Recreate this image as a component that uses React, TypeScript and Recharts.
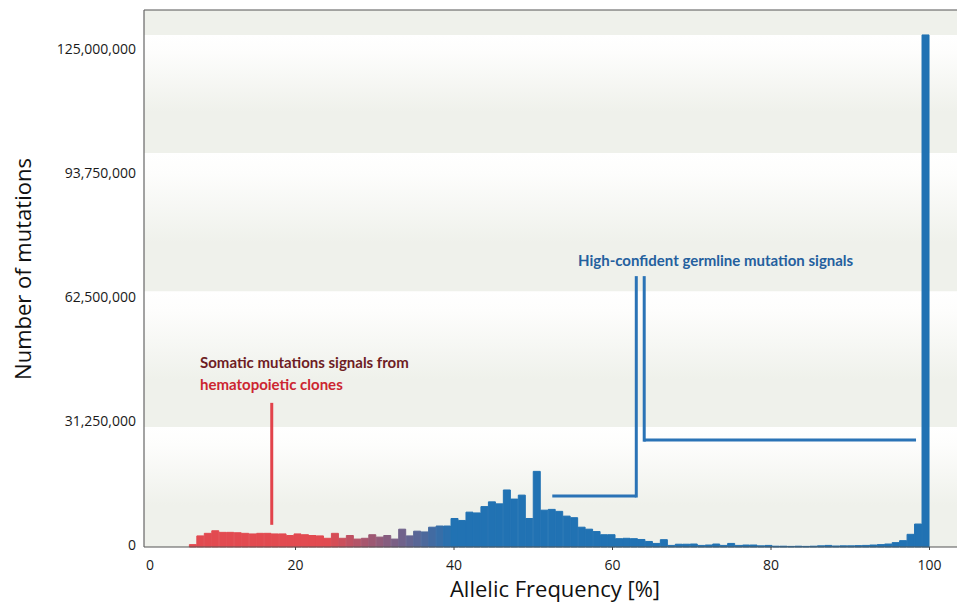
import React from 'react';
import { BarChart, Bar, Cell, XAxis, YAxis, ReferenceArea, ReferenceLine } from 'recharts';

// histogram of allelic frequency, 106 equal bins over 0-100 %, counts in millions
const BIN_TOTAL = 106;
const FIRST_BIN = 7;
const BIN_COUNTS_M = [
  0.6, 2.8, 3.45, 4.1, 3.7, 3.7, 3.6, 3.45, 3.3, 3.45,
  3.45, 3.3, 3.3, 2.9, 3.3, 3.1, 2.9, 2.8, 2.2, 3.45,
  2.2, 2.9, 2.0, 2.2, 3.1, 2.5, 2.9, 2.0, 4.5, 2.8,
  4.0, 3.8, 5.0, 5.3, 5.3, 7.2, 6.7, 8.8, 8.6, 10.2,
  11.4, 10.9, 14.4, 12.1, 13.1, 7.2, 19.1, 9.3, 9.5, 9.0,
  7.8, 7.4, 5.0, 4.5, 3.9, 3.1, 3.1, 2.1, 2.2, 2.1,
  1.9, 1.4, 0.9, 1.85, 0.4, 0.7, 0.7, 0.75, 0.4, 0.5,
  0.75, 0.4, 0.9, 0.4, 0.5, 0.5, 0.3, 0.4, 0.2, 0.2,
  0.15, 0.2, 0.15, 0.2, 0.3, 0.4, 0.25, 0.3, 0.3, 0.35,
  0.4, 0.5, 0.6, 0.75, 1.1, 1.6, 3.2, 5.8, 129.3,
];

const X_TICKS = [0, 20, 40, 60, 80, 100];
const Y_TICKS = [0, 31.25, 62.5, 93.75, 125];
const Y_MAX = 135.6;
const X_DOMAIN: [number, number] = [0.88, 103.47];

// background bands (millions), each fading white -> grey downward
const BAND_EDGES = [0, 30.3, 64.6, 99.5, 129.3];

const RED = [226, 74, 80];
const BLUE = [33, 114, 179];
const FADE_FROM = 24;
const FADE_TO = 40;

const binWidth = 100 / BIN_TOTAL;
const data = BIN_COUNTS_M.map((v, i) => ({ x: (FIRST_BIN + i + 0.5) * binWidth, v }));

function barColor(x: number) {
  const t = Math.min(1, Math.max(0, (x - FADE_FROM) / (FADE_TO - FADE_FROM)));
  const c = RED.map((r, k) => Math.round(r + (BLUE[k] - r) * t));
  return `rgb(${c[0]},${c[1]},${c[2]})`;
}

const FONT = '"Open Sans", "DejaVu Sans", sans-serif';
const NOTE_FONT = 'Lato, "Open Sans", sans-serif';

function XTick(props: any) {
  const { x, y, payload } = props;
  const v = payload.value;
  return (
    <g>
      {v !== 0 && <line x1={x} x2={x} y1={y - 8} y2={y - 5} stroke="#444" strokeWidth={1} />}
      <text x={v === 0 ? x + 13 : x} y={y + 15} textAnchor="middle" fontSize={14} fill="#1a1a1a" fontFamily={FONT}>
        {v}
      </text>
    </g>
  );
}

function YTick(props: any) {
  const { x, y, payload } = props;
  return (
    <text x={x} y={y - 3} textAnchor="end" dominantBaseline="central" fontSize={14} fill="#1a1a1a" fontFamily={FONT}>
      {Math.round(payload.value * 1e6).toLocaleString('en-US')}
    </text>
  );
}

const RED_NOTE = '#e2434b';
const BLUE_NOTE = '#2a73b6';

export default function App() {
  return (
    <div style={{ position: 'absolute', left: 0, top: 0, width: 957, height: 604, background: '#fff', fontFamily: FONT }}>
      <BarChart width={957} height={604} data={data} margin={{ top: 10, right: 0, bottom: 0, left: 0 }} barCategoryGap={0} barGap={0}>
        <defs>
          <linearGradient id="band" x1="0" y1="0" x2="0" y2="1">
            <stop offset="0%" stopColor="#ffffff" />
            <stop offset="15%" stopColor="#fdfdfc" />
            <stop offset="65%" stopColor="#eff1eb" />
            <stop offset="100%" stopColor="#eff1eb" />
          </linearGradient>
        </defs>
        <XAxis
          type="number"
          dataKey="x"
          domain={X_DOMAIN}
          ticks={X_TICKS}
          allowDataOverflow
          height={57}
          tickLine={false}
          tick={<XTick />}
          axisLine={{ stroke: '#555', strokeWidth: 1.2 }}
        />
        <YAxis
          type="number"
          domain={[0, Y_MAX]}
          ticks={Y_TICKS}
          width={144}
          tickLine={false}
          tick={<YTick />}
          axisLine={{ stroke: '#666', strokeWidth: 1.2 }}
        />
        <ReferenceArea y1={BAND_EDGES[4]} y2={Y_MAX} fill="#eff1eb" fillOpacity={1} stroke="none" ifOverflow="hidden" />
        {BAND_EDGES.slice(0, 4).map((lo, i) => (
          <ReferenceArea key={i} y1={lo} y2={BAND_EDGES[i + 1]} fill="url(#band)" fillOpacity={1} stroke="none" />
        ))}
        <ReferenceLine y={Y_MAX} stroke="#555" strokeWidth={1.2} />
        <Bar dataKey="v" isAnimationActive={false}>
          {data.map((d, i) => (
            <Cell key={i} fill={barColor(d.x)} stroke={barColor(d.x)} strokeWidth={1} />
          ))}
        </Bar>
        <ReferenceLine segment={[{ x: 17, y: 5.6 }, { x: 17, y: 36.4 }]} stroke={RED_NOTE} strokeWidth={3} />
        <ReferenceLine segment={[{ x: 52.4, y: 12.9 }, { x: 63.0, y: 12.9 }]} stroke={BLUE_NOTE} strokeWidth={3} />
        <ReferenceLine segment={[{ x: 63.0, y: 12.5 }, { x: 63.0, y: 68.4 }]} stroke={BLUE_NOTE} strokeWidth={3} />
        <ReferenceLine segment={[{ x: 64.0, y: 27.0 }, { x: 98.3, y: 27.0 }]} stroke={BLUE_NOTE} strokeWidth={3} />
        <ReferenceLine segment={[{ x: 64.0, y: 26.6 }, { x: 64.0, y: 68.4 }]} stroke={BLUE_NOTE} strokeWidth={3} />
      </BarChart>

      <div style={{ position: 'absolute', left: 22 - 150, top: 269 - 15, width: 300, height: 30, lineHeight: '30px', textAlign: 'center', transform: 'rotate(-90deg)', fontSize: 22, color: '#111' }}>
        Number of mutations
      </div>
      <div style={{ position: 'absolute', left: 555 - 150, top: 588 - 15, width: 300, height: 30, lineHeight: '30px', textAlign: 'center', fontSize: 22, color: '#111' }}>
        Allelic Frequency [%]
      </div>
      <div style={{ position: 'absolute', left: 200, top: 352, lineHeight: '20px', fontSize: 15, fontWeight: 700, fontFamily: NOTE_FONT, color: '#6e1d24', whiteSpace: 'nowrap' }}>
        Somatic mutations signals from
      </div>
      <div style={{ position: 'absolute', left: 200, top: 374, lineHeight: '20px', fontSize: 15, fontWeight: 700, fontFamily: NOTE_FONT, color: '#cc2530', whiteSpace: 'nowrap' }}>
        hematopoietic clones
      </div>
      <div style={{ position: 'absolute', left: 578, top: 250, lineHeight: '20px', fontSize: 15, fontWeight: 700, fontFamily: NOTE_FONT, color: '#24609e', whiteSpace: 'nowrap' }}>
        High-confident germline mutation signals
      </div>
    </div>
  );
}
